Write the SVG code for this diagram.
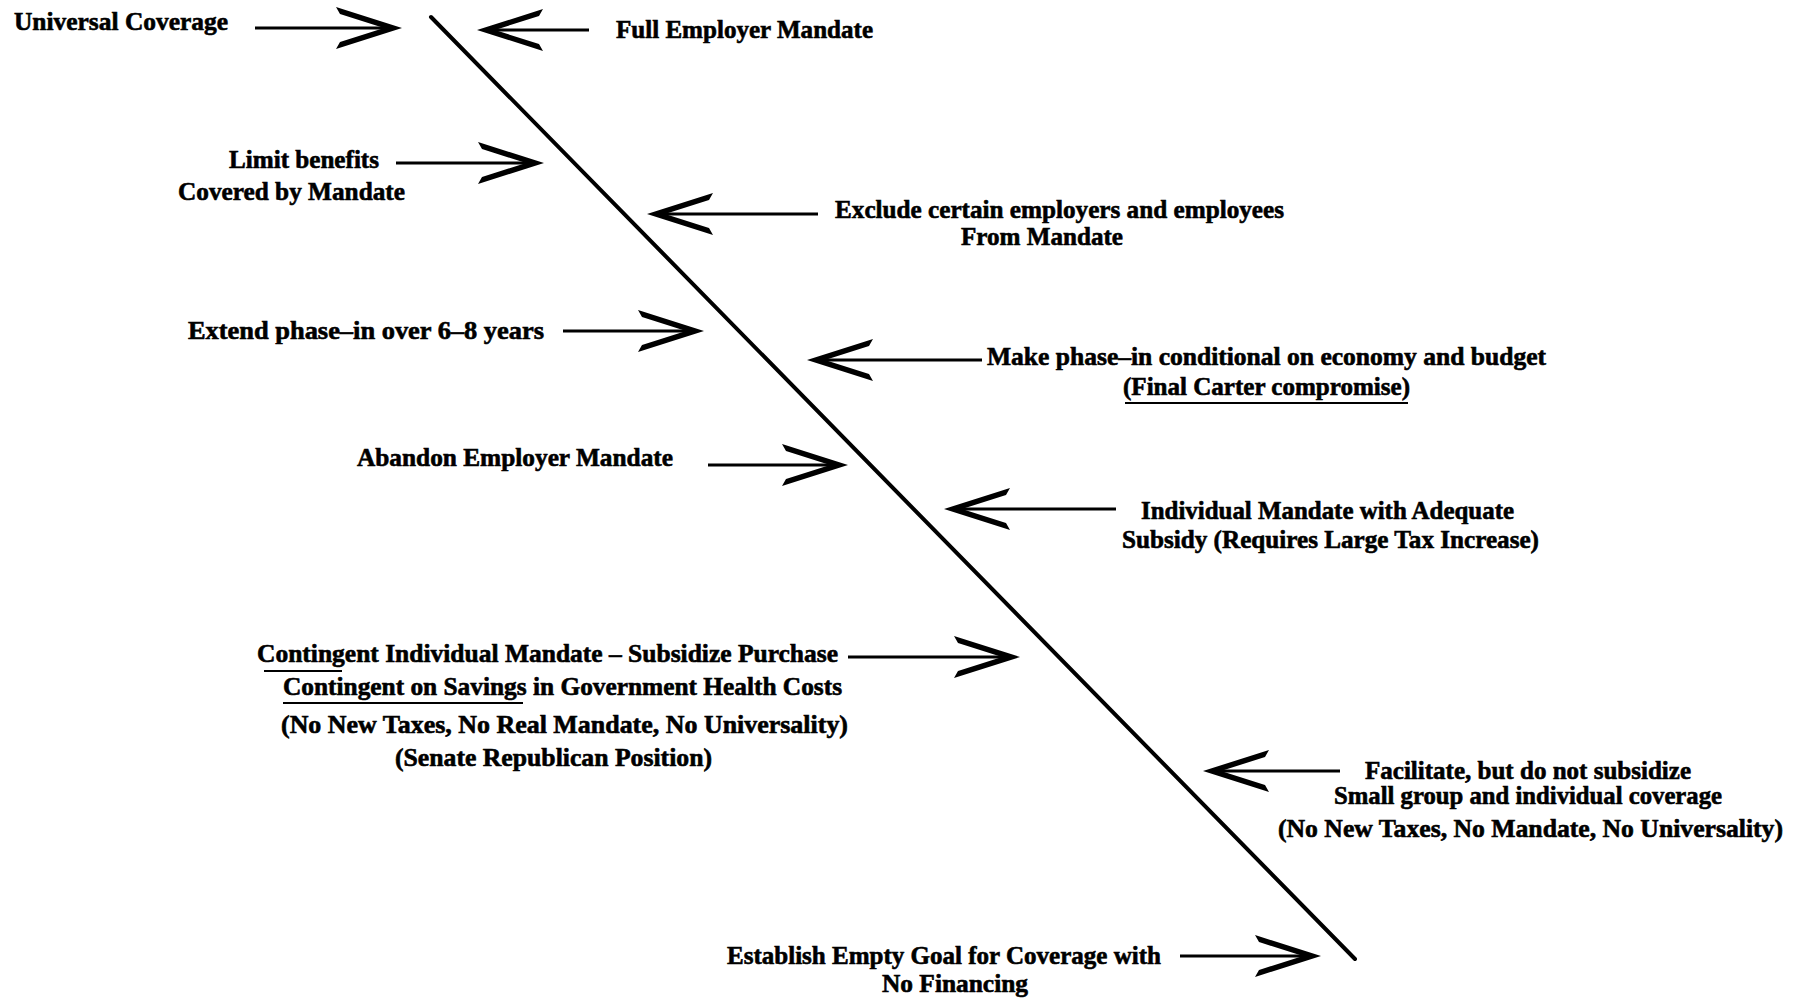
<svg xmlns="http://www.w3.org/2000/svg" xmlns:xlink="http://www.w3.org/1999/xlink" width="1801" height="998" viewBox="0 0 1801 998">
<style>
text{font-family:"Liberation Serif","Times New Roman",serif;font-weight:bold;font-size:25px;fill:#000;stroke:#000;stroke-width:0.6}
.sh{stroke:#000;stroke-width:2.8;fill:none}
.ul{stroke:#000;stroke-width:2;fill:none}
.main{stroke:#000;stroke-width:4;fill:none;stroke-linecap:round}
</style>
<defs>
<path id="ah" d="M0,0 L-66,-21 L-62,-14 L-18,0 L-62,14 L-66,21 Z" fill="#000"/>
</defs>
<rect width="1801" height="998" fill="#fff"/>
<g id="connectors">
<line class="main" x1="431" y1="17" x2="1355" y2="959"/>
<line class="sh" x1="255" y1="28" x2="390" y2="28"/><use xlink:href="#ah" transform="translate(402,28)"/>
<line class="sh" x1="589" y1="30" x2="489" y2="30"/><use xlink:href="#ah" transform="translate(477,30) scale(-1,1)"/>
<line class="sh" x1="396" y1="163" x2="532" y2="163"/><use xlink:href="#ah" transform="translate(544,163)"/>
<line class="sh" x1="818" y1="214" x2="659" y2="214"/><use xlink:href="#ah" transform="translate(647,214) scale(-1,1)"/>
<line class="sh" x1="563" y1="331" x2="692" y2="331"/><use xlink:href="#ah" transform="translate(704,331)"/>
<line class="sh" x1="982" y1="360" x2="819" y2="360"/><use xlink:href="#ah" transform="translate(807,360) scale(-1,1)"/>
<line class="sh" x1="708" y1="465" x2="836" y2="465"/><use xlink:href="#ah" transform="translate(848,465)"/>
<line class="sh" x1="1116" y1="509" x2="956" y2="509"/><use xlink:href="#ah" transform="translate(944,509) scale(-1,1)"/>
<line class="sh" x1="848" y1="657" x2="1008" y2="657"/><use xlink:href="#ah" transform="translate(1020,657)"/>
<line class="sh" x1="1340" y1="771" x2="1215" y2="771"/><use xlink:href="#ah" transform="translate(1203,771) scale(-1,1)"/>
<line class="sh" x1="1180" y1="956" x2="1309" y2="956"/><use xlink:href="#ah" transform="translate(1321,956)"/>
</g>
<g id="n-universal"><text x="14" y="30" textLength="214" lengthAdjust="spacingAndGlyphs">Universal Coverage</text></g>
<g id="n-full"><text x="616" y="38" textLength="257" lengthAdjust="spacingAndGlyphs">Full Employer Mandate</text></g>
<g id="n-limit"><text x="229" y="168" textLength="150" lengthAdjust="spacingAndGlyphs">Limit benefits</text><text x="178" y="200" textLength="227" lengthAdjust="spacingAndGlyphs">Covered by Mandate</text></g>
<g id="n-exclude"><text x="835" y="218" textLength="449" lengthAdjust="spacingAndGlyphs">Exclude certain employers and employees</text><text x="961" y="245" textLength="162" lengthAdjust="spacingAndGlyphs">From Mandate</text></g>
<g id="n-extend"><text x="188" y="339" textLength="356" lengthAdjust="spacingAndGlyphs">Extend phase–in over 6–8 years</text></g>
<g id="n-make"><text x="987" y="365" textLength="559" lengthAdjust="spacingAndGlyphs">Make phase–in conditional on economy and budget</text><text x="1123" y="395" textLength="287" lengthAdjust="spacingAndGlyphs">(Final Carter compromise)</text><line class="ul" x1="1125" y1="403" x2="1408" y2="403"/></g>
<g id="n-abandon"><text x="357" y="466" textLength="316" lengthAdjust="spacingAndGlyphs">Abandon Employer Mandate</text></g>
<g id="n-individual"><text x="1141" y="519" textLength="373" lengthAdjust="spacingAndGlyphs">Individual Mandate with Adequate</text><text x="1122" y="548" textLength="417" lengthAdjust="spacingAndGlyphs">Subsidy (Requires Large Tax Increase)</text></g>
<g id="n-contingent"><text x="257" y="662" textLength="581" lengthAdjust="spacingAndGlyphs">Contingent Individual Mandate – Subsidize Purchase</text><line class="ul" x1="264" y1="671" x2="342" y2="671"/><text x="283" y="695" textLength="559" lengthAdjust="spacingAndGlyphs">Contingent on Savings in Government Health Costs</text><line class="ul" x1="283" y1="703" x2="523" y2="703"/><text x="281" y="733" textLength="567" lengthAdjust="spacingAndGlyphs">(No New Taxes, No Real Mandate, No Universality)</text><text x="395" y="766" textLength="317" lengthAdjust="spacingAndGlyphs">(Senate Republican Position)</text></g>
<g id="n-facilitate"><text x="1365" y="779" textLength="326" lengthAdjust="spacingAndGlyphs">Facilitate, but do not subsidize</text><text x="1334" y="804" textLength="388" lengthAdjust="spacingAndGlyphs">Small group and individual coverage</text><text x="1278" y="837" textLength="505" lengthAdjust="spacingAndGlyphs">(No New Taxes, No Mandate, No Universality)</text></g>
<g id="n-establish"><text x="727" y="964" textLength="434" lengthAdjust="spacingAndGlyphs">Establish Empty Goal for Coverage with</text><text x="882" y="992" textLength="146" lengthAdjust="spacingAndGlyphs">No Financing</text></g>
</svg>
